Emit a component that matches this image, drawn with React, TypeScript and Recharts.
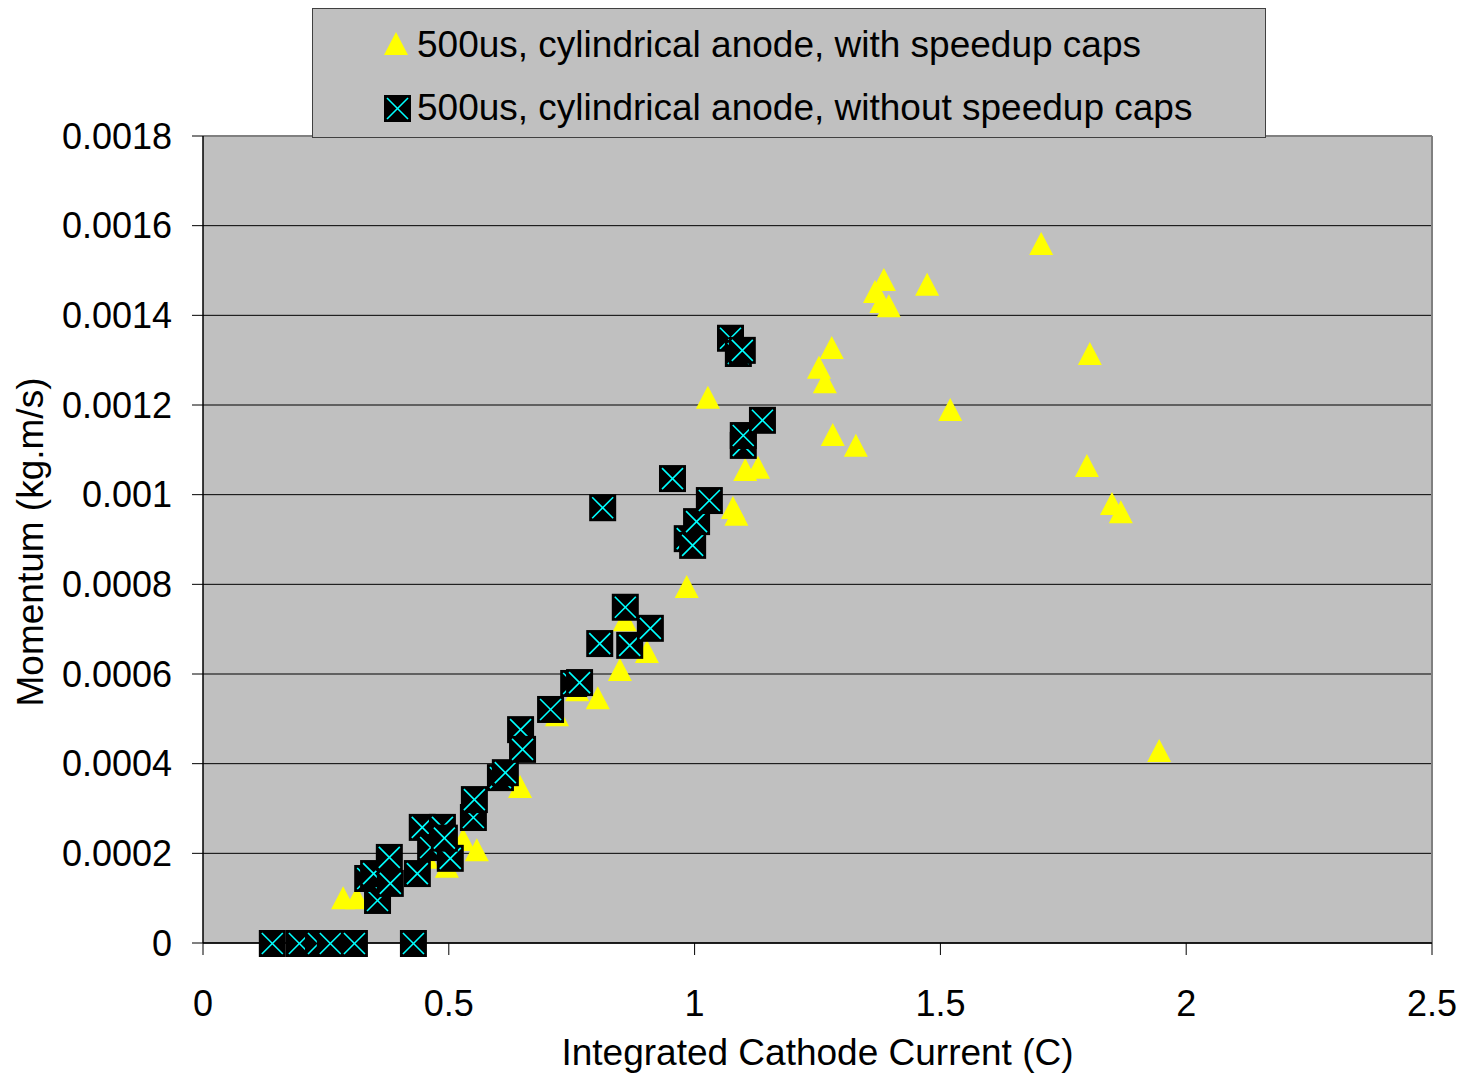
import {
  CartesianGrid,
  Legend,
  ReferenceLine,
  Scatter,
  ScatterChart,
  XAxis,
  YAxis,
} from "recharts";

const withCapsX = [
  0.285, 0.313, 0.455, 0.496, 0.529, 0.557, 0.645, 0.72, 0.761, 0.803, 0.848,
  0.858, 0.903, 0.984, 1.078, 1.085, 1.103, 1.129, 1.027, 1.253, 1.265, 1.279,
  1.281, 1.328, 1.367, 1.385, 1.38, 1.395, 1.473, 1.52, 1.705, 1.804, 1.798,
  1.849, 1.867, 1.945,
];
const withCapsY = [
  0.0001, 0.0001, 0.00019, 0.00017, 0.00023, 0.000207, 0.000348, 0.000508,
  0.000564, 0.000546, 0.000609, 0.00072, 0.000649, 0.000794, 0.00097, 0.000955,
  0.001055, 0.00106, 0.001216, 0.001283, 0.001251, 0.001327, 0.001133,
  0.001109, 0.001452, 0.001479, 0.00143, 0.00142, 0.001468, 0.001189, 0.001559,
  0.001314, 0.001064, 0.000979, 0.000961, 0.000428,
];

const withoutCapsX = [
  0.14, 0.195, 0.234, 0.258, 0.307, 0.427, 0.354, 0.334, 0.346, 0.38, 0.378,
  0.435, 0.445, 0.486, 0.462, 0.502, 0.49, 0.549, 0.551, 0.604, 0.614, 0.645,
  0.649, 0.706, 0.753, 0.765, 0.806, 0.858, 0.867, 0.909, 0.984, 0.995, 1.003,
  1.029, 0.812, 0.954, 1.098, 1.098, 1.137, 1.072, 1.088, 1.096,
];
const withoutCapsY = [
  0, 0, 0, 0, 0, 0, 0.000096, 0.000145, 0.000156, 0.000134, 0.000192, 0.000156,
  0.000259, 0.000259, 0.000214, 0.00019, 0.000235, 0.000281, 0.000321, 0.00037,
  0.000381, 0.000477, 0.000433, 0.000522, 0.00058, 0.000582, 0.000669, 0.00075,
  0.000665, 0.000703, 0.000903, 0.000888, 0.000941, 0.000988, 0.000972,
  0.001037, 0.001111, 0.001133, 0.001167, 0.00135, 0.001316, 0.001323,
];

const xTicks = [0, 0.5, 1, 1.5, 2, 2.5];
const yTicks = [
  0, 0.0002, 0.0004, 0.0006, 0.0008, 0.001, 0.0012, 0.0014, 0.0016, 0.0018,
];

const seriesNames = [
  "500us, cylindrical anode, with speedup caps",
  "500us, cylindrical anode, without speedup caps",
];

const withCaps = withCapsX.map((x, i) => ({ x, y: withCapsY[i] }));
const withoutCaps = withoutCapsX.map((x, i) => ({ x, y: withoutCapsY[i] }));

const FONT = "'Liberation Sans', Arial, sans-serif";

const Triangle = (props: any) => {
  const { cx, cy } = props;
  return (
    <polygon
      points={`${cx},${cy - 12} ${cx - 12},${cy + 11} ${cx + 12},${cy + 11}`}
      fill="#FFFF00"
    />
  );
};

const XSquare = (props: any) => {
  const { cx, cy } = props;
  return (
    <g>
      <rect x={cx - 13} y={cy - 13} width={27} height={27} fill="#000" />
      <line
        x1={cx - 10}
        y1={cy - 10}
        x2={cx + 11}
        y2={cy + 11}
        stroke="#00FFFF"
        strokeWidth={1.6}
      />
      <line
        x1={cx + 11}
        y1={cy - 10}
        x2={cx - 10}
        y2={cy + 11}
        stroke="#00FFFF"
        strokeWidth={1.6}
      />
    </g>
  );
};

const LegendBox = () => (
  <div
    style={{
      boxSizing: "border-box",
      width: 954,
      height: 130,
      background: "#C0C0C0",
      border: "1.5px solid #404040",
      fontFamily: FONT,
      fontSize: 37,
      color: "#000",
      position: "relative",
    }}
  >
    <svg
      width={40}
      height={130}
      style={{ position: "absolute", left: 65, top: 0 }}
    >
      <Triangle cx={18} cy={35} />
      <XSquare cx={19} cy={99} />
    </svg>
    <div
      style={{
        position: "absolute",
        left: 104,
        top: 15,
        whiteSpace: "nowrap",
        lineHeight: "42px",
      }}
    >
      {seriesNames[0]}
    </div>
    <div
      style={{
        position: "absolute",
        left: 104,
        top: 78,
        whiteSpace: "nowrap",
        lineHeight: "42px",
      }}
    >
      {seriesNames[1]}
    </div>
  </div>
);

export default function App() {
  return (
    <div
      style={{
        position: "absolute",
        left: 0,
        top: 0,
        width: 1466,
        height: 1073,
        background: "#fff",
      }}
    >
      <ScatterChart
        width={1466}
        height={1073}
        margin={{ top: 136, right: 34, bottom: 0, left: 0 }}
      >
        <CartesianGrid
          vertical={false}
          stroke="#000"
          strokeWidth={1}
          fill="#C0C0C0"
          fillOpacity={1}
        />
        <XAxis
          type="number"
          dataKey="x"
          domain={[0, 2.5]}
          ticks={xTicks}
          height={130}
          tickSize={12}
          tickMargin={35}
          stroke="#000"
          tick={{ fill: "#000", fontSize: 36, fontFamily: FONT }}
          tickLine={{ stroke: "#000" }}
          axisLine={{ stroke: "#000", strokeWidth: 1.5 }}
          label={{
            value: "Integrated Cathode Current (C)",
            position: "insideBottom",
            offset: 8,
            fill: "#000",
            fontSize: 37,
            fontFamily: FONT,
          }}
        />
        <YAxis
          type="number"
          dataKey="y"
          domain={[0, 0.0018]}
          ticks={yTicks}
          width={203}
          tickSize={11}
          tickMargin={20}
          tickFormatter={(v: number) => String(v)}
          tick={{ fill: "#000", fontSize: 36, fontFamily: FONT }}
          tickLine={{ stroke: "#000" }}
          axisLine={{ stroke: "#000", strokeWidth: 1.5 }}
          label={{
            content: () => (
              <text
                x={30}
                y={542}
                transform="rotate(-90 30 542)"
                textAnchor="middle"
                dominantBaseline="central"
                fontSize={37}
                fontFamily={FONT}
                fill="#000"
              >
                Momentum (kg.m/s)
              </text>
            ),
          }}
        />
        <ReferenceLine y={0.0018} stroke="#808080" strokeWidth={2} />
        <ReferenceLine x={2.5} stroke="#808080" strokeWidth={2} />
        <Scatter
          name={seriesNames[0]}
          data={withCaps}
          shape={Triangle}
          isAnimationActive={false}
        />
        <Scatter
          name={seriesNames[1]}
          data={withoutCaps}
          shape={XSquare}
          isAnimationActive={false}
        />
        <Legend
          layout="vertical"
          align="center"
          verticalAlign="middle"
          content={() => <LegendBox />}
          wrapperStyle={{ left: 312, top: 8, width: 954, height: 130 }}
        />
      </ScatterChart>
    </div>
  );
}
